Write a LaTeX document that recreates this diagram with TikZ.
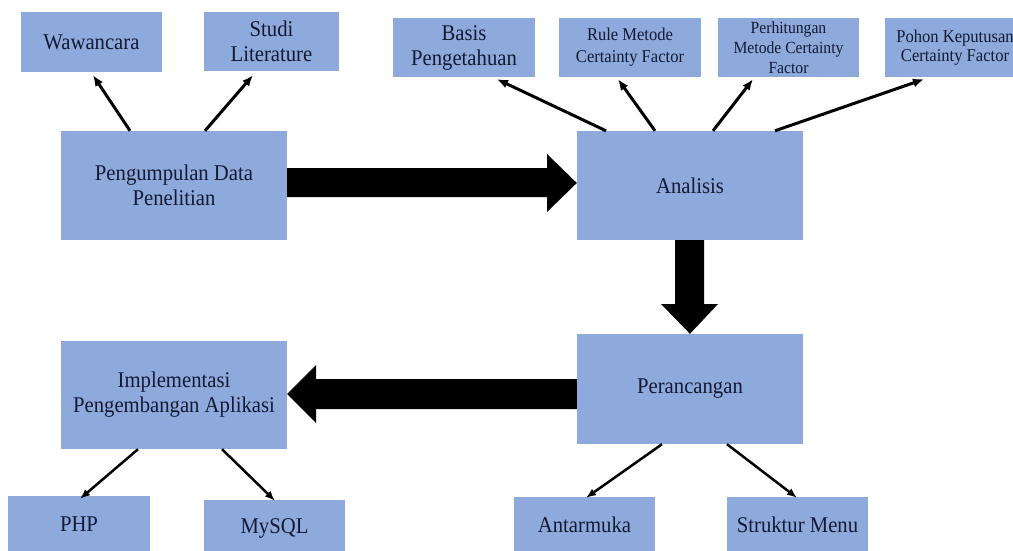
\documentclass[tikz,border=0pt]{standalone}
\usepackage{fontspec}
\setmainfont{Liberation Serif}[FakeStretch=0.92]
\usetikzlibrary{arrows.meta,calc}
\definecolor{boxfill}{HTML}{8EA9DB}
\definecolor{boxtext}{HTML}{141A33}
\begin{document}
\begin{tikzpicture}[x=1pt,y=-1pt,
  box/.style={fill=boxfill, text=boxtext, draw=none, align=center, inner sep=2pt,
    font=\fontsize{22.5}{25}\selectfont},
  smallA/.style={font=\fontsize{18}{22}\selectfont},
  smallB/.style={font=\fontsize{17}{20}\selectfont},
  smallC/.style={font=\fontsize{18}{19}\selectfont},
  link/.style={draw=black, line width=3pt, -{Latex[length=11pt,width=9pt]}},
  linkb/.style={draw=black, line width=2.5pt, -{Latex[length=10pt,width=8pt]}},
  block/.style={fill=black}]
\path[use as bounding box, fill=white] (0,0) rectangle (1013,550);
\clip (0,0) rectangle (1013,550);

% main boxes
\node[box, minimum width=226pt, minimum height=109pt] (P) at (174,185.5) {Pengumpulan Data\\Penelitian};
\node[box, minimum width=226pt, minimum height=109pt] (A) at (690,185.5) {Analisis};
\node[box, minimum width=226pt, minimum height=110pt] (R) at (690,389) {Perancangan};
\node[box, minimum width=226pt, minimum height=108pt] (I) at (174,395) {Implementasi\\Pengembangan Aplikasi};

% top row
\node[box, minimum width=141pt, minimum height=60pt] (W) at (91.5,42) {Wawancara};
\node[box, minimum width=135pt, minimum height=59pt] (S) at (271.5,41.5) {Studi\\Literature};
\node[box, minimum width=142pt, minimum height=59pt] (B) at (464,47.5) {Basis\\Pengetahuan};
\node[box, smallA, minimum width=142pt, minimum height=59pt] (Ru) at (630,47.5) {Rule Metode\\Certainty Factor};
\node[box, smallB, minimum width=141pt, minimum height=59pt] (Pe) at (788.5,47.5) {Perhitungan\\Metode Certainty\\Factor};
\node[box, smallC, minimum width=140pt, minimum height=59pt] (Po) at (955,47.5) {Pohon Keputusan\\Certainty Factor};

% bottom row
\node[box, minimum width=142pt, minimum height=56pt] (PHP) at (79,524) {PHP};
\node[box, minimum width=141pt, minimum height=56pt] (My) at (274.5,528) {MySQL};
\node[box, minimum width=141pt, minimum height=56pt] (An) at (584.5,525) {Antarmuka};
\node[box, minimum width=141pt, minimum height=56pt] (St) at (797.5,525) {Struktur Menu};

% block arrows
\fill[block] (P.east |- 0,168) -- (547,168) -- (547,154) -- (A.west |- 0,183)
  -- (547,212) -- (547,197) -- (P.east |- 0,197) -- cycle;
\fill[block] (675,0 |- A.south) -- (675,304) -- (661,304) -- (R.north)
  -- (718,304) -- (704,304) -- (704,0 |- A.south) -- cycle;
\fill[block] (I.east |- 0,394) -- (316,365) -- (316,379) -- (R.west |- 0,379)
  -- (R.west |- 0,409) -- (316,409) -- (316,423) -- cycle;

% thin connectors
\draw[link] (130,0 |- P.north) -- ($(93,0 |- W.south)+(0,3)$);
\draw[link] (205,0 |- P.north) -- ($(253,0 |- S.south)+(0,4)$);
\draw[link] (606,0 |- A.north) -- ($(497,0 |- B.south)+(0,2)$);
\draw[link] (655,0 |- A.north) -- ($(618,0 |- Ru.south)+(0,2)$);
\draw[link] (713,0 |- A.north) -- ($(753,0 |- Pe.south)+(0,2)$);
\draw[link] (775,0 |- A.north) -- ($(924,0 |- Po.south)+(0,2)$);

\draw[linkb] (138,0 |- I.south) -- ($(80,0 |- PHP.north)+(0,3)$);
\draw[linkb] (222,0 |- I.south) -- ($(275,0 |- My.north)+(0,1)$);
\draw[linkb] (662,0 |- R.south) -- ($(586,0 |- An.north)+(0,1)$);
\draw[linkb] (727,0 |- R.south) -- ($(797,0 |- St.north)+(0,1)$);
\end{tikzpicture}
\end{document}
